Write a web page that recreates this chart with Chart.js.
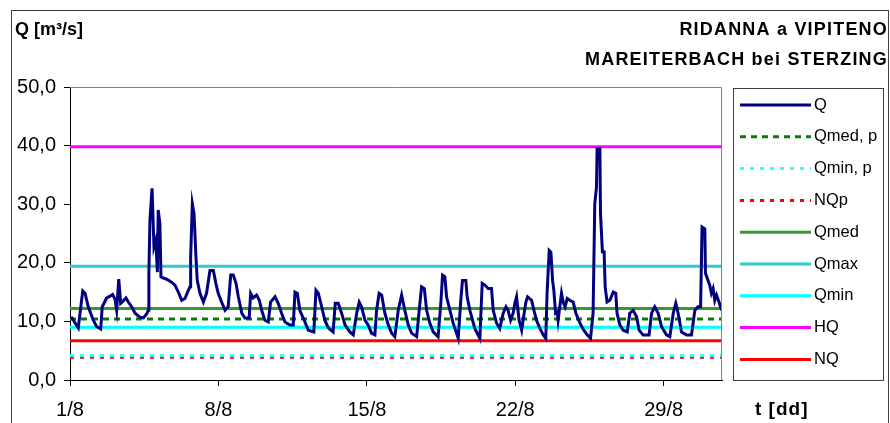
<!DOCTYPE html>
<html lang="en">
<head>
<meta charset="UTF-8" />
<title>Ridanna a Vipiteno</title>
<script src="https://cdn.jsdelivr.net/npm/chart.js"></script>
<style>
	html, body { margin: 0; padding: 0; background: #fff; }
	#wrap { width: 890px; height: 423px; }
</style>
</head>
<body>
<div id="wrap"><canvas id="myChart"></canvas></div>
<script>
// Q series, x = days since 1/8 00:00
var qDays = [0.05, 0.39, 0.60, 0.71, 0.86, 1.10, 1.26, 1.45, 1.52, 1.73, 1.89, 2.01, 2.12, 2.20, 2.30, 2.39, 2.51, 2.64, 2.75, 2.91,
	3.07, 3.30, 3.46, 3.62, 3.69, 3.72, 3.77, 3.87, 3.96, 4.05, 4.12, 4.16, 4.24, 4.29, 4.40, 4.56, 4.79, 4.95, 5.11, 5.27,
	5.42, 5.58, 5.66, 5.69, 5.77, 5.85, 5.94, 6.00, 6.13, 6.29, 6.44, 6.60, 6.76, 6.88, 6.99, 7.15, 7.31, 7.46, 7.58, 7.70,
	7.83, 7.94, 8.10, 8.25, 8.45, 8.52, 8.64, 8.80, 8.93, 9.04, 9.19, 9.35, 9.46, 9.67, 9.82, 9.98, 10.14, 10.37, 10.53, 10.61,
	10.72, 10.84, 11.08, 11.24, 11.50, 11.60, 11.71, 11.87, 12.02, 12.18, 12.41, 12.51, 12.65, 12.81, 12.97, 13.20, 13.36, 13.52, 13.64, 13.75,
	13.91, 14.06, 14.22, 14.38, 14.46, 14.58, 14.70, 14.85, 15.01, 15.17, 15.32, 15.48, 15.64, 15.79, 15.95, 16.11, 16.35, 16.47, 16.58, 16.71,
	16.82, 16.97, 17.13, 17.36, 17.49, 17.57, 17.68, 17.76, 17.92, 18.07, 18.31, 18.43, 18.51, 18.67, 18.73, 18.86, 19.09, 19.33, 19.44, 19.57,
	19.72, 19.88, 19.96, 20.12, 20.27, 20.43, 20.56, 20.66, 20.78, 20.90, 20.98, 21.06, 21.18, 21.30, 21.37, 21.50, 21.58, 21.77, 21.88, 22.00,
	22.16, 22.32, 22.44, 22.50, 22.60, 22.68, 22.76, 22.82, 22.90, 22.98, 23.02, 23.10, 23.18, 23.26, 23.35, 23.45, 23.57, 23.73, 23.86, 24.05,
	24.23, 24.39, 24.55, 24.67, 24.75, 24.83, 24.86, 24.99, 25.02, 25.11, 25.19, 25.24, 25.33, 25.46, 25.62, 25.74, 25.80, 25.93, 26.09, 26.28,
	26.40, 26.56, 26.72, 26.84, 27.03, 27.31, 27.43, 27.58, 27.74, 27.90, 28.13, 28.29, 28.45, 28.57, 28.68, 28.84, 29.08, 29.31, 29.47, 29.62,
	29.74, 29.81, 29.94, 29.97, 30.09, 30.17, 30.25, 30.33, 30.41, 30.49, 30.61, 30.73];
var qValues = [10.8, 8.9, 15.2, 14.8, 12.5, 10.2, 9.1, 8.7, 12.5, 14.0, 14.3, 14.6, 13.8, 11.9, 17.2, 13.1, 13.5, 14.0, 13.3, 12.5,
	11.4, 10.7, 10.6, 11.3, 11.9, 18.2, 27.3, 32.7, 22.7, 23.9, 18.4, 29.0, 26.7, 17.6, 17.4, 17.2, 16.7, 16.2, 15.0, 13.6,
	13.9, 15.3, 15.9, 21.0, 30.1, 28.4, 21.0, 17.0, 14.8, 13.3, 14.8, 18.7, 18.7, 16.5, 14.8, 13.3, 11.9, 12.5, 17.9, 17.9,
	16.5, 14.2, 11.4, 10.6, 10.6, 14.8, 14.0, 14.5, 13.6, 11.9, 10.2, 9.9, 13.3, 14.2, 13.1, 11.4, 9.9, 9.4, 9.4, 15.0,
	14.8, 11.9, 9.9, 8.5, 8.2, 15.3, 14.8, 12.5, 10.2, 8.9, 8.2, 13.1, 13.1, 11.4, 9.4, 8.2, 7.7, 11.4, 13.3, 12.5,
	10.2, 9.4, 8.0, 7.7, 11.9, 14.8, 14.5, 11.4, 9.4, 8.0, 7.4, 11.9, 14.5, 11.9, 9.4, 8.0, 7.4, 11.9, 15.9, 15.6,
	11.9, 9.7, 8.2, 7.4, 13.1, 17.9, 17.6, 14.2, 11.9, 9.7, 7.1, 13.6, 17.0, 17.0, 14.2, 11.9, 8.8, 7.1, 16.5, 16.2,
	15.6, 15.6, 11.9, 9.7, 8.8, 11.4, 12.5, 11.9, 10.2, 11.4, 13.1, 14.2, 10.2, 8.5, 10.2, 13.3, 14.2, 13.6, 11.9, 10.2,
	8.8, 7.7, 7.1, 14.8, 22.1, 21.8, 17.0, 15.3, 11.4, 11.6, 10.2, 12.5, 14.8, 13.3, 12.5, 13.9, 13.6, 13.3, 11.4, 9.7,
	8.5, 7.7, 7.1, 11.4, 30.1, 32.9, 39.5, 39.5, 28.4, 21.9, 21.9, 15.9, 13.3, 13.6, 15.0, 14.8, 11.4, 9.4, 8.5, 8.2,
	11.4, 11.9, 10.8, 8.5, 7.7, 7.7, 11.4, 12.5, 11.4, 9.1, 7.7, 7.4, 11.4, 13.1, 11.4, 8.2, 7.7, 7.7, 11.9, 12.5,
	12.5, 26.1, 25.8, 18.2, 17.0, 16.2, 14.8, 15.6, 13.6, 14.5, 13.3, 11.9];

// reference levels
var refLabels = ["Qmed, p", "Qmin, p", "NQp", "Qmed", "Qmax", "Qmin", "HQ", "NQ"];
var refValues = [10.4, 4.2, 3.9, 12.2, 19.4, 9.0, 39.8, 6.7];

var xTickDays = [0, 7, 14, 21, 28];
var xTickLabels = ["1/8", "8/8", "15/8", "22/8", "29/8"];
var xEnd = 30.75;

var refColors = ["#008000", "#33ffff", "#ff0000", "#339933", "#33cccc", "#00ffff", "#ff00ff", "#ff0000"];
var refDashes = [[6, 5], [4, 6], [4, 6], [], [], [], [], []];

var datasets = [{
	label: "Q",
	data: qDays.map(function (d, i) { return { x: d, y: qValues[i] }; }),
	borderColor: "#000080",
	borderWidth: 3,
	pointRadius: 0,
	tension: 0,
}];
refLabels.forEach(function (lab, i) {
	datasets.push({
		label: lab,
		data: [{ x: 0, y: refValues[i] }, { x: xEnd, y: refValues[i] }],
		borderColor: refColors[i],
		borderDash: refDashes[i],
		borderWidth: 3,
		pointRadius: 0,
	});
});

var font = "Liberation Sans, Arial, sans-serif";

var decorPlugin = {
	id: "decor",
	afterDraw: function (chart) {
		var ctx = chart.ctx;
		var a = chart.chartArea;
		ctx.save();
		// outer frame
		ctx.strokeStyle = "#404040";
		ctx.lineWidth = 1;
		ctx.strokeRect(11.5, 10.5, 877, 420);
		// plot top and right border
		ctx.strokeStyle = "#808080";
		ctx.beginPath();
		ctx.moveTo(a.left, a.top + 0.5);
		ctx.lineTo(a.right - 0.5, a.top + 0.5);
		ctx.lineTo(a.right - 0.5, a.bottom);
		ctx.stroke();

		// titles
		ctx.fillStyle = "#000";
		ctx.textBaseline = "middle";
		ctx.font = "bold 18px " + font;
		ctx.textAlign = "left";
		ctx.fillText("Q [m³/s]", 15, 30);
		ctx.letterSpacing = "1.2px";
		ctx.textAlign = "right";
		ctx.fillText("RIDANNA a VIPITENO", 888, 30);
		ctx.fillText("MAREITERBACH bei STERZING", 888, 60);
		ctx.textAlign = "left";
		ctx.letterSpacing = "1px";
		ctx.font = "bold 19px " + font;
		ctx.fillText("t [dd]", 755, 410);
		ctx.letterSpacing = "0px";

		// legend
		ctx.strokeStyle = "#404040";
		ctx.lineWidth = 1;
		ctx.strokeRect(733.5, 88.5, 150, 292);
		ctx.font = "16.5px " + font;
		chart.data.datasets.forEach(function (ds, i) {
			var y = 105 + i * 31.8;
			ctx.strokeStyle = ds.borderColor;
			ctx.lineWidth = ds.borderWidth;
			ctx.setLineDash(ds.borderDash || []);
			ctx.beginPath();
			ctx.moveTo(740, y);
			ctx.lineTo(811, y);
			ctx.stroke();
			ctx.setLineDash([]);
			ctx.fillStyle = "#000";
			ctx.fillText(ds.label, 814, y);
		});
		ctx.restore();
	},
};

var ctx = document.getElementById("myChart").getContext("2d");
var myChart = new Chart(ctx, {
	type: "line",
	plugins: [decorPlugin],
	data: { datasets: datasets },
	options: {
		responsive: true,
		maintainAspectRatio: false,
		animation: false,
		layout: { padding: { left: 10, top: 87, right: 168, bottom: 0 } },
		plugins: {
			legend: { display: false },
			tooltip: { enabled: false },
		},
		scales: {
			x: {
				type: "linear",
				min: 0,
				max: xEnd,
				afterFit: function (scale) { scale.height = 43; },
				afterBuildTicks: function (scale) {
					scale.ticks = xTickDays.map(function (d) { return { value: d }; });
				},
				ticks: {
					autoSkip: false,
					maxRotation: 0,
					padding: 12,
					color: "#000",
					font: { family: font, size: 20 },
					callback: function (value) {
						return xTickLabels[xTickDays.indexOf(value)];
					},
				},
				grid: { drawOnChartArea: false, tickLength: 6, color: "#000" },
				border: { color: "#000", width: 1 },
			},
			y: {
				min: 0,
				max: 50,
				afterFit: function (scale) { scale.width = 60; },
				ticks: {
					stepSize: 10,
					padding: 8,
					color: "#000",
					font: { family: font, size: 20 },
					callback: function (value) {
						return value.toFixed(1).replace(".", ",");
					},
				},
				grid: { drawOnChartArea: false, tickLength: 6, color: "#000" },
				border: { color: "#000", width: 1 },
			},
		},
	},
});
</script>
</body>
</html>
